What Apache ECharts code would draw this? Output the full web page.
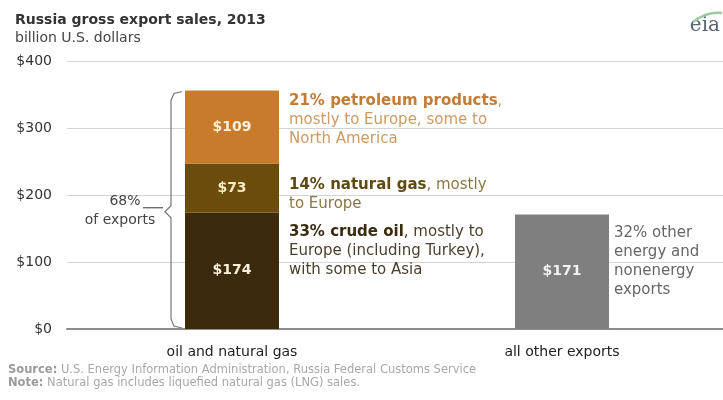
<!DOCTYPE html>
<html>
<head>
<meta charset="utf-8">
<script src="https://cdn.jsdelivr.net/npm/echarts@6/dist/echarts.min.js"></script>
<style>
  html, body { margin: 0; padding: 0; background: #fff; }
  #chart { width: 723px; height: 400px; }
</style>
</head>
<body>
<div id="chart"></div>
<script>
// Russia gross export sales, 2013 (billion U.S. dollars)
const categories = ['oil and natural gas', 'all other exports'];
const crudeOil = [174, '-'];
const naturalGas = [73, '-'];
const petroleumProducts = [109, '-'];
const otherExports = ['-', 171];
const yTicks = [0, 100, 200, 300, 400];

const FONT = '"DejaVu Sans", Verdana, sans-serif';
const chart = echarts.init(document.getElementById('chart'), null, { renderer: 'canvas' });

const barLabel = {
  show: true,
  position: 'inside',
  formatter: p => '$' + p.value,
  color: '#fbf0dc',
  fontFamily: FONT,
  fontWeight: 'bold',
  fontSize: 14
};

function seg(name, data, color, labelColor) {
  return {
    name, type: 'bar', stack: 'total', data,
    barWidth: 94,
    itemStyle: { color },
    label: Object.assign({}, barLabel, labelColor ? { color: labelColor } : {}),
    emphasis: { disabled: true }
  };
}

chart.setOption({
  animation: false,
  textStyle: { fontFamily: FONT },
  grid: { left: 67, width: 660, top: 61, height: 268, outerBoundsMode: 'none', containLabel: false },
  xAxis: {
    type: 'category',
    data: categories,
    axisLine: { show: true, lineStyle: { color: '#8c8c8c', width: 2 } },
    axisTick: { show: false },
    axisLabel: { color: '#222', fontSize: 14, margin: 16, fontFamily: FONT }
  },
  yAxis: {
    type: 'value',
    min: yTicks[0],
    max: yTicks[yTicks.length - 1],
    interval: 100,
    axisLine: { show: false },
    axisTick: { show: false },
    splitLine: { lineStyle: { color: '#d4d4d4', width: 1 } },
    axisLabel: { color: '#333', fontSize: 14, margin: 15, fontFamily: FONT,
                 formatter: v => '$' + v }
  },
  title: [
    { text: 'Russia gross export sales, 2013', left: 10, top: 8,
      textStyle: { fontSize: 14, fontWeight: 'bold', color: '#333', fontFamily: FONT } },
    { text: 'billion U.S. dollars', left: 10, top: 26,
      textStyle: { fontSize: 14, fontWeight: 'normal', color: '#444', fontFamily: FONT } }
  ],
  series: [
    seg('crude oil', crudeOil, '#3b2a0b'),
    seg('natural gas', naturalGas, '#6c4c0d', '#f6ecc4'),
    seg('petroleum products', petroleumProducts, '#c97b2c'),
    seg('other exports', otherExports, '#7f7f7f', '#f2f2f2')
  ]
});

// Annotations, bracket and footnotes placed from the axis scales
function px(catIdx, value) { return chart.convertToPixel({ xAxisIndex: 0, yAxisIndex: 0 }, [catIdx, value]); }

const halfBar = 47;
const oilTop = crudeOil[0] + naturalGas[0] + petroleumProducts[0];
const gasTop = crudeOil[0] + naturalGas[0];
const crudeTop = crudeOil[0];
const pTop = px(0, oilTop);
const pGas = px(0, gasTop);
const pCrude = px(0, crudeTop);
const pBase = px(0, 0);
const pOther = px(1, otherExports[1]);

const textX = pTop[0] + halfBar + 10;
const otherX = pOther[0] + halfBar + 5;

function note(x, y, text, rich, baseColor) {
  return {
    type: 'text', left: x, top: y, silent: true,
    style: { text, fill: baseColor, font: '15px ' + FONT, lineHeight: 19, rich }
  };
}

const bx = pTop[0] - halfBar - 15;   // bracket spine
const midY = (pTop[1] + pBase[1]) / 2 + 2;

chart.setOption({
  graphic: [
    note(textX, pTop[1] + 1,
      '{b|21% petroleum products},\nmostly to Europe, some to\nNorth America',
      { b: { fontWeight: 'bold', fill: '#c47b35', fontSize: 15, fontFamily: FONT } }, '#cf9a62'),
    note(textX, pGas[1] + 12,
      '{b|14% natural gas}, mostly\nto Europe',
      { b: { fontWeight: 'bold', fill: '#5e4a12', fontSize: 15, fontFamily: FONT } }, '#8a7744'),
    note(textX, pCrude[1] + 10,
      '{b|33% crude oil}, mostly to\nEurope (including Turkey),\nwith some to Asia',
      { b: { fontWeight: 'bold', fill: '#3a2c10', fontSize: 15, fontFamily: FONT } }, '#4a3f2c'),
    note(otherX, pOther[1] + 9,
      '32% other\nenergy and\nnonenergy\nexports', {}, '#666'),
    {
      type: 'polyline', silent: true,
      shape: { points: [
        [bx + 12, pTop[1] + 1], [bx + 4, pTop[1] + 3], [bx + 1, pTop[1] + 10],
        [bx + 1, midY - 6], [bx - 5, midY], [bx + 1, midY + 6],
        [bx + 1, pBase[1] - 10], [bx + 4, pBase[1] - 3], [bx + 12, pBase[1] - 1]
      ] },
      style: { stroke: '#777', lineWidth: 1.2, fill: null }
    },
    {
      type: 'line', silent: true,
      shape: { x1: bx - 27, y1: midY - 4, x2: bx - 7, y2: midY - 4 },
      style: { stroke: '#555', lineWidth: 1.2 }
    },
    {
      type: 'text', silent: true, x: 125, y: midY - 10,
      style: { text: '68%', fill: '#444', font: '14px ' + FONT, align: 'center', verticalAlign: 'middle' }
    },
    {
      type: 'text', silent: true, x: 120, y: midY + 9,
      style: { text: 'of exports', fill: '#444', font: '14px ' + FONT, align: 'center', verticalAlign: 'middle' }
    },
    {
      type: 'text', silent: true, left: 8, top: 364,
      style: { text: '{b|Source:} U.S. Energy Information Administration, Russia Federal Customs Service\n{b|Note:} Natural gas includes liquefied natural gas (LNG) sales.',
               fill: '#a8a8a8', font: '11.5px ' + FONT, lineHeight: 13,
               rich: { b: { fontWeight: 'bold', fill: '#9a9a9a', fontSize: 11.5, fontFamily: FONT } } }
    },
    {
      type: 'text', silent: true, right: 3, top: 16,
      style: { text: 'eia', fill: '#5a6570', font: '20px "DejaVu Serif", "Liberation Serif", serif' }
    },
    {
      type: 'bezierCurve', silent: true,
      shape: { x1: 693, y1: 22, x2: 722, y2: 13, cpx1: 702, cpy1: 15, cpx2: 712, cpy2: 12 },
      style: { stroke: '#9cc9a0', lineWidth: 2.5, fill: null }
    }
  ]
});
</script>
</body>
</html>
